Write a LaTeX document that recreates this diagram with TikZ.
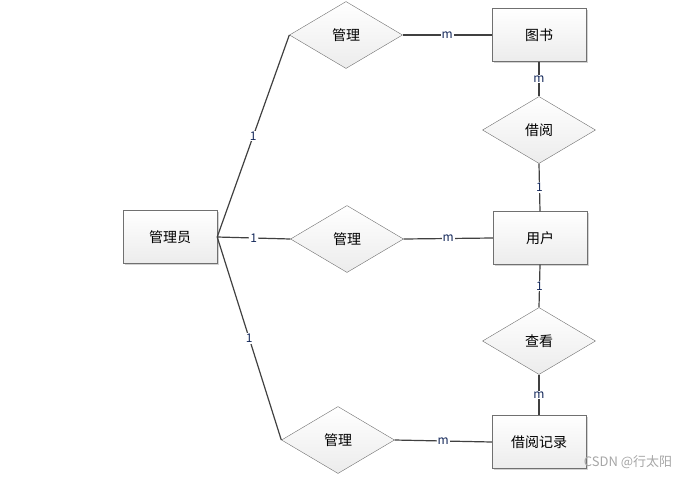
\documentclass[tikz,border=0pt]{standalone}
\usepackage{fontspec}
\usepackage{xcolor}
\usepackage{tikz}
\usetikzlibrary{shapes.geometric,shadows}
\setmainfont{Noto Sans CJK SC}
\definecolor{linegray}{RGB}{64,64,64}
\definecolor{boxgray}{RGB}{112,112,112}
\definecolor{labelblue}{RGB}{20,40,90}

\begin{document}
\begin{tikzpicture}[x=1pt,y=-1pt,
    entity/.style={draw=boxgray,top color=white,bottom color=gray!15,
      minimum width=94pt,minimum height=53pt,inner sep=0pt,
      drop shadow={shadow xshift=1.5pt,shadow yshift=-1.5pt,opacity=.35},
      font=\fontsize{14}{14}\selectfont},
    relation/.style={diamond,draw=boxgray,top color=white,bottom color=gray!15,
      minimum width=113pt,minimum height=67pt,aspect=1.7,inner sep=0pt,
      font=\fontsize{14}{14}\selectfont},
    card/.style={fill=white,inner sep=1pt,font=\fontsize{12}{12}\selectfont,text=labelblue},
    link/.style={draw=linegray,line width=1.2pt}]
    \useasboundingbox (0,0) rectangle (694,480);

    \node[entity] (admin) at (170,237) {管理员};
    \node[entity] (book) at (539,35) {图书};
    \node[entity] (user) at (540,238) {用户};
    \node[entity] (record) at (539,442) {借阅记录};

    \node[relation] (manage1) at (346,35) {管理};
    \node[relation] (manage2) at (347,239) {管理};
    \node[relation] (manage3) at (338,440) {管理};
    \node[relation] (borrow) at (539,130) {借阅};
    \node[relation] (view) at (539,341) {查看};

    \draw[link] (admin.east) -- node[card] {1} (manage1.west);
    \draw[link] (admin.east) -- node[card] {1} (manage2.west);
    \draw[link] (admin.east) -- node[card] {1} (manage3.west);
    \draw[link] (manage1.east) -- node[card] {m} (book.west);
    \draw[link] (manage2.east) -- node[card] {m} (user.west);
    \draw[link] (manage3.east) -- node[card] {m} (record.west);
    \draw[link] (book.south) -- node[card] {m} (borrow.north);
    \draw[link] (borrow.south) -- node[card] {1} (user.north);
    \draw[link] (user.south) -- node[card] {1} (view.north);
    \draw[link] (view.south) -- node[card] {m} (record.north);

    \node[text=gray!70,font=\fontsize{13}{13}\selectfont] (mark) at (628,462) {CSDN @行太阳};
\end{tikzpicture}
\end{document}
